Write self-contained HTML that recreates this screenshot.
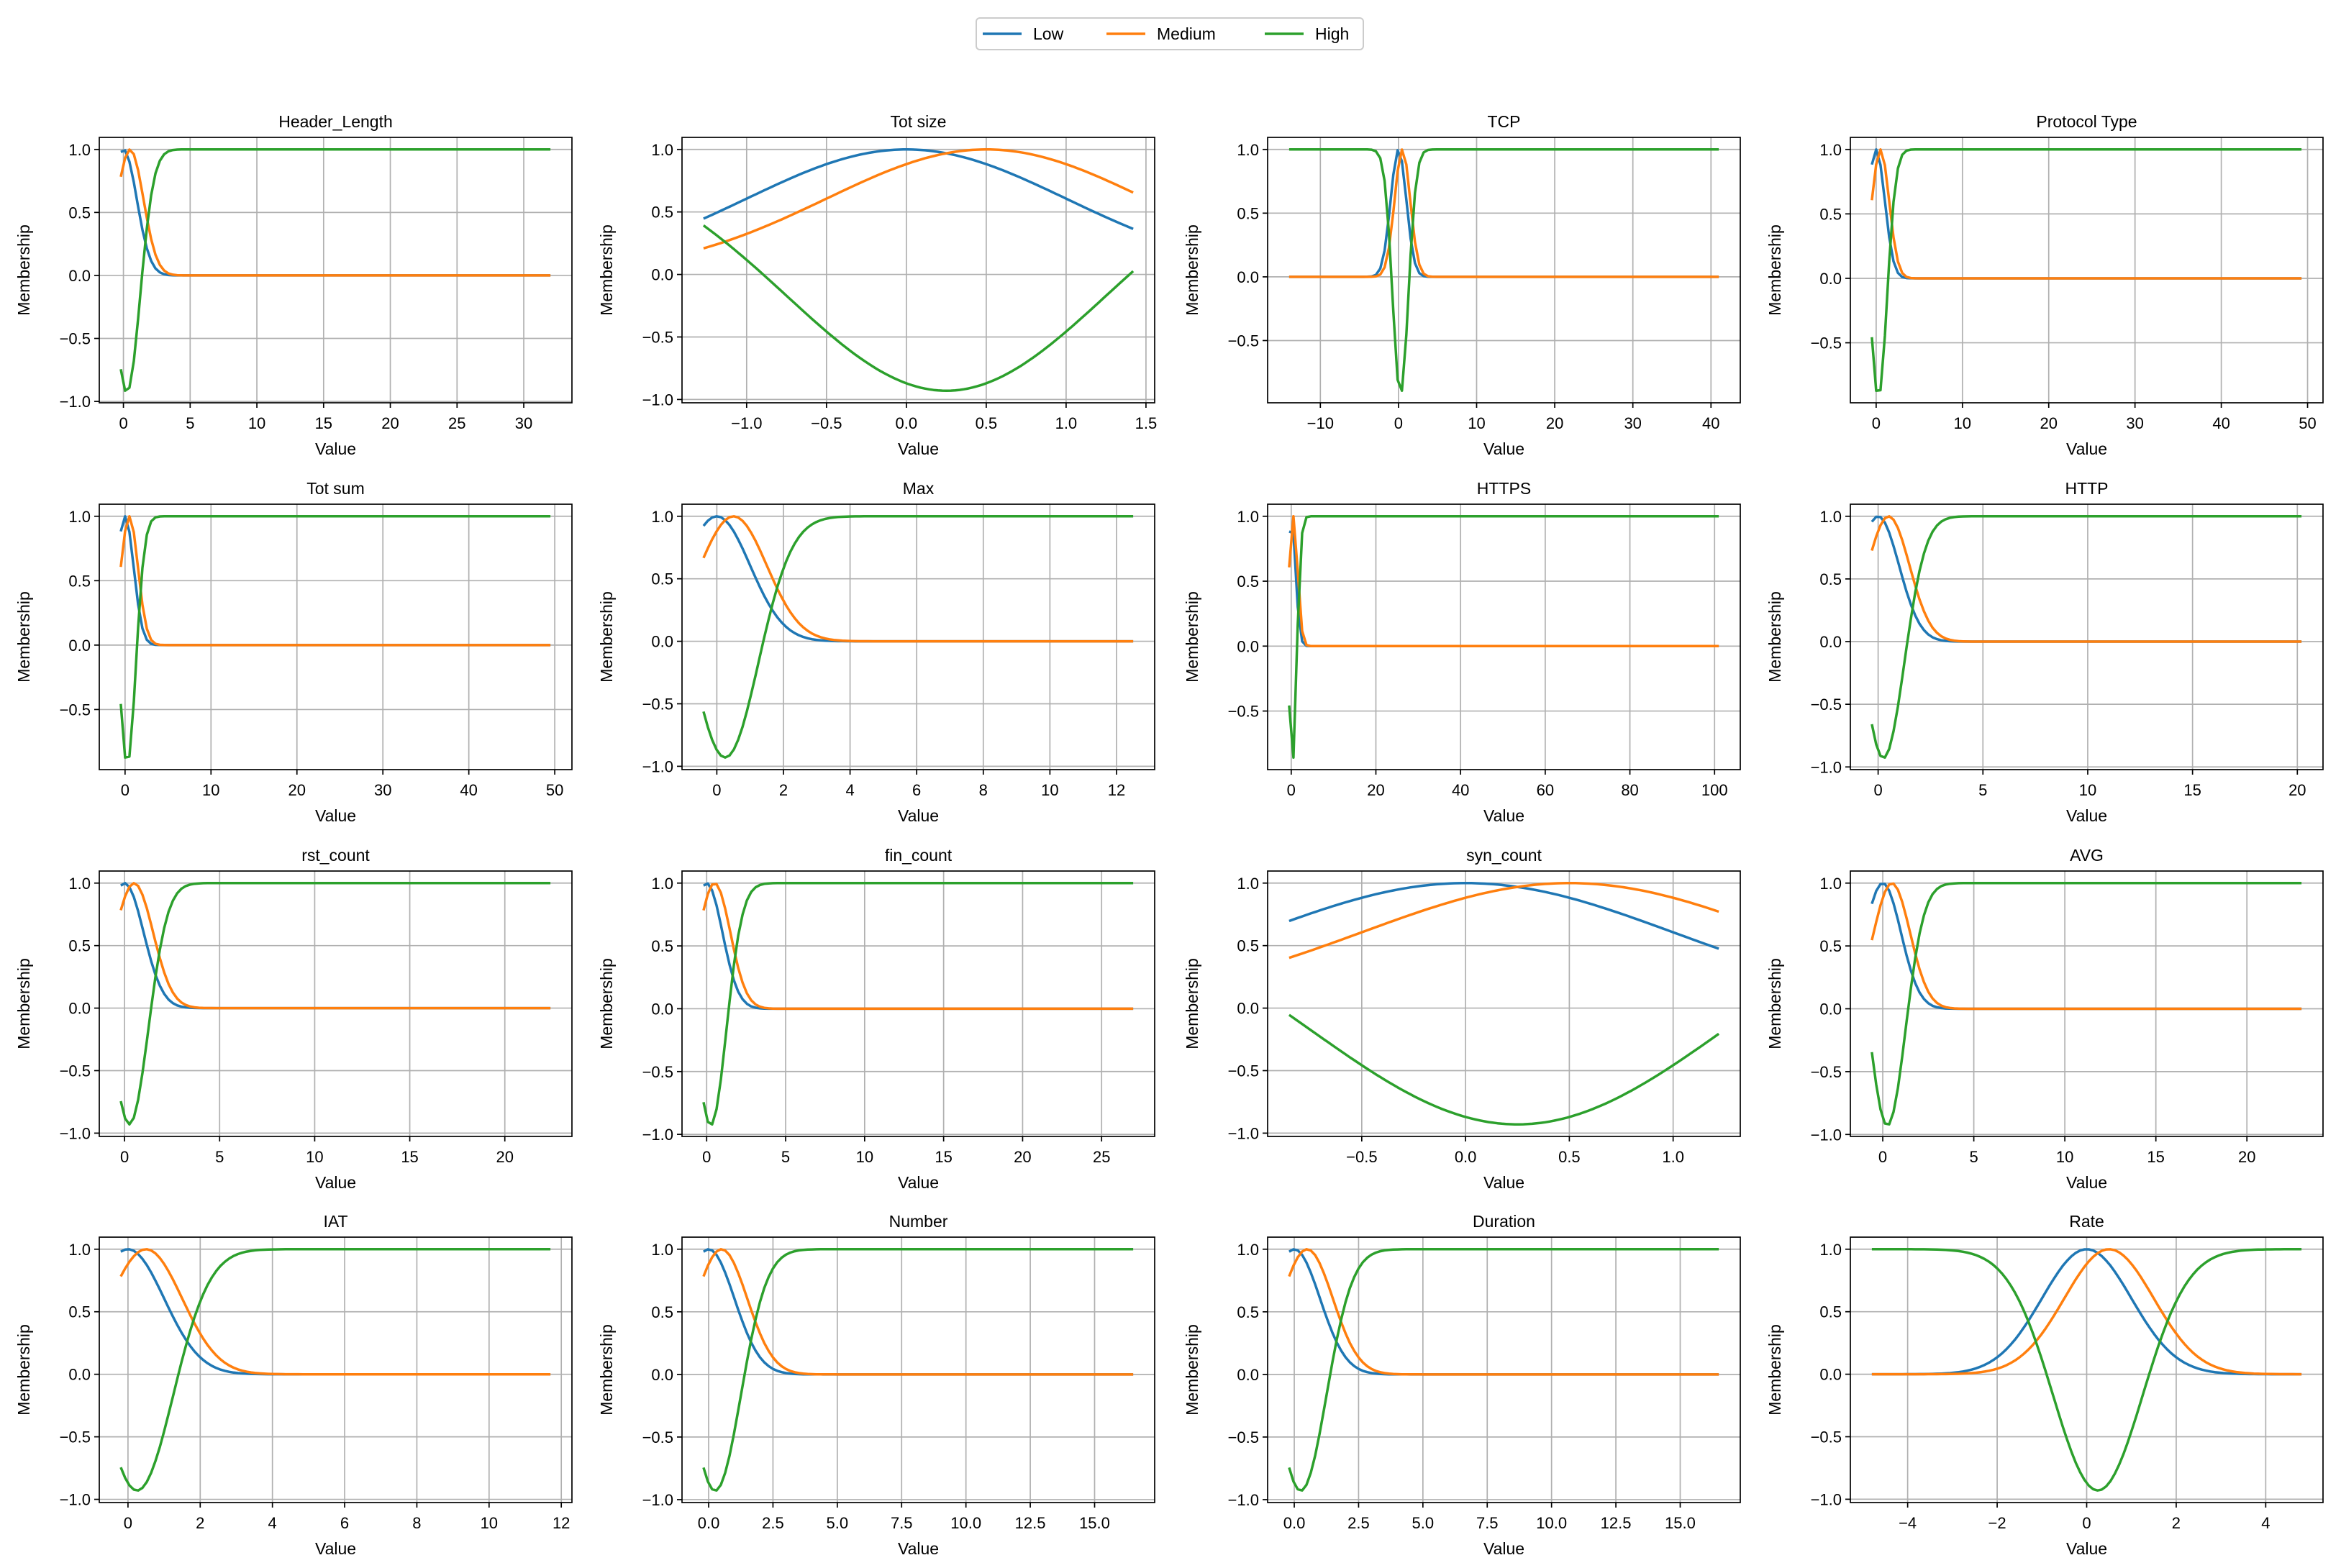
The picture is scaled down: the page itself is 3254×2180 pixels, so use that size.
<!DOCTYPE html>
<html><head><meta charset="utf-8">
<style>
html,body{margin:0;padding:0;background:#fff;}
svg{display:block;font-family:"Liberation Sans","DejaVu Sans",sans-serif;}
</style></head>
<body>
<svg id="fig" width="3254" height="2180" viewBox="0 0 3254 2180" xmlns="http://www.w3.org/2000/svg">
<rect width="3254" height="2180" fill="#fff"/>
<g>
<rect x="1357" y="25" width="538" height="44" rx="5" fill="#fff" stroke="#ccc" stroke-width="2"/>
<g><line x1="1366" y1="47" x2="1420" y2="47" stroke="#1f77b4" stroke-width="3.5"/><text x="1436" y="55" font-size="23">Low</text></g>
<g><line x1="1538" y1="47" x2="1592" y2="47" stroke="#ff7f0e" stroke-width="3.5"/><text x="1608" y="55" font-size="23">Medium</text></g>
<g><line x1="1758" y1="47" x2="1812" y2="47" stroke="#2ca02c" stroke-width="3.5"/><text x="1828" y="55" font-size="23">High</text></g>
</g>
</svg>
<script>
// Panel data
const titles = ["Header_Length","Tot size","TCP","Protocol Type","Tot sum","Max","HTTPS","HTTP","rst_count","fin_count","syn_count","AVG","IAT","Number","Duration","Rate"];
const xMins = [-0.2,-1.27,-14,-0.5,-0.5,-0.4,-0.5,-0.3,-0.2,-0.2,-0.85,-0.6,-0.2,-0.2,-0.2,-4.8];
const xMaxs = [32,1.42,41,49.3,49.5,12.5,101,20.2,22.4,27,1.22,23,11.7,16.5,16.5,4.8];
const xTickSteps = [5,0.5,10,10,10,2,20,5,5,5,0.5,5,2,2.5,2.5,2];
const xTickDecimals = [0,1,0,0,0,0,0,0,0,0,1,0,0,1,1,0];
// membership function parameters: Low, Medium, High
const seriesNames = ["Low","Medium","High"];
const seriesColors = ["#1f77b4","#ff7f0e","#2ca02c"];
const centers = [0,0.5,0.25];
const sigmas = [1,1,1];
const highAmplitude = 1.93;
const nSamples = 100;

const NS="http://www.w3.org/2000/svg";
const svg=document.getElementById('fig');
const colL=[138,948,1762,2572], rowT=[191,701,1211,1720], W=657, H=369;
function mk(tag,attrs,parent){const e=document.createElementNS(NS,tag);for(const k in attrs)e.setAttribute(k,attrs[k]);(parent||svg).appendChild(e);return e;}
function fmt(v,d){let s=v.toFixed(d);if(Math.abs(v)<1e-9)s=(0).toFixed(d);return s.replace('-','\u2212');}
function mf(s,x){const g=Math.exp(-Math.pow(x-centers[s],2)/(2*sigmas[s]*sigmas[s]));return s===2?1-highAmplitude*g:g;}

for(let p=0;p<titles.length;p++){
  const L=colL[p%4],T=rowT[Math.floor(p/4)];
  const g=mk('g',{});
  
  
  const xs=[];for(let i=0;i<nSamples;i++)xs.push(xMins[p]+(xMaxs[p]-xMins[p])*i/(nSamples-1));
  const ys=[0,1,2].map(s=>xs.map(x=>mf(s,x)));
  let ymin=Infinity,ymax=-Infinity;ys.forEach(a=>a.forEach(v=>{ymin=Math.min(ymin,v);ymax=Math.max(ymax,v);}));
  const yr=ymax-ymin; const y0=ymin-0.05*yr,y1=ymax+0.05*yr;
  const xr=xMaxs[p]-xMins[p]; const x0=xMins[p]-0.05*xr,x1=xMaxs[p]+0.05*xr;
  const sx=v=>L+(v-x0)/(x1-x0)*W, sy=v=>T+H-(v-y0)/(y1-y0)*H;
  // grid + ticks
  const st=xTickSteps[p];
  for(let k=Math.ceil(x0/st-1e-9);k*st<=x1+1e-9;k++){
    const v=k*st,X=sx(v);
    const gl=mk('line',{x1:X,y1:T,x2:X,y2:T+H,stroke:'#b0b0b0','stroke-width':1.7},g);
    
    mk('line',{x1:X,y1:T+H,x2:X,y2:T+H+7,stroke:'#000','stroke-width':1.7},g);
    const t=mk('text',{x:X,y:T+H+36,'font-size':22,'text-anchor':'middle',fill:'#000'},g);
    t.textContent=fmt(v,xTickDecimals[p]);
    
  }
  for(let k=Math.ceil(y0/0.5-1e-9);k*0.5<=y1+1e-9;k++){
    const v=k*0.5,Y=sy(v);
    const gl=mk('line',{x1:L,y1:Y,x2:L+W,y2:Y,stroke:'#b0b0b0','stroke-width':1.7},g);
    
    mk('line',{x1:L-7,y1:Y,x2:L,y2:Y,stroke:'#000','stroke-width':1.7},g);
    const t=mk('text',{x:L-12,y:Y+8,'font-size':22,'text-anchor':'end',fill:'#000'},g);
    t.textContent=fmt(v,1);
    
  }
  // series
  for(let s=0;s<3;s++){
    const d=xs.map((x,i)=>(i?'L':'M')+sx(x).toFixed(1)+','+sy(ys[s][i]).toFixed(1)).join('');
    const pa=mk('path',{d:d,fill:'none',stroke:seriesColors[s],'stroke-width':3.5,'stroke-linejoin':'round'},g);
    
    
  }
  const fr=mk('rect',{x:L,y:T,width:W,height:H,fill:'none',stroke:'#000','stroke-width':1.7},g);
  
  const ti=mk('text',{x:L+W/2,y:T-14,'font-size':23,'text-anchor':'middle'},g);
  ti.textContent=titles[p];
  
  const xl=mk('text',{x:L+W/2,y:T+H+72,'font-size':23,'text-anchor':'middle'},g);
  xl.textContent='Value';
  
  const yl=mk('text',{x:0,y:0,'font-size':23,'text-anchor':'middle',transform:'translate('+(L-97)+','+(T+H/2)+') rotate(-90)'},g);
  yl.textContent='Membership';
  
}
</script>
</body></html>
